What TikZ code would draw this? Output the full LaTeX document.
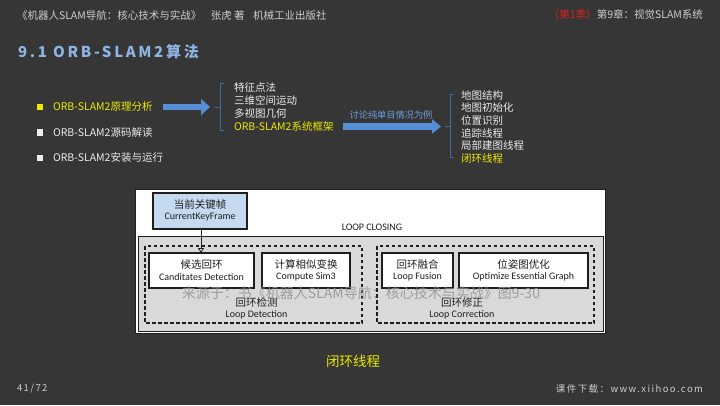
\documentclass[tikz,border=0pt]{standalone}
\usepackage{fontspec}
\setmainfont{Noto Sans CJK SC}
\newfontfamily\calfont{Carlito}
\newfontfamily\ttlfont[LetterSpace=18]{Noto Sans CJK SC}
\newfontfamily\ftfont[LetterSpace=15]{Noto Sans CJK SC}
\usetikzlibrary{arrows.meta}
\definecolor{bg}{RGB}{54,54,54}
\definecolor{hdr}{RGB}{205,205,205}
\definecolor{ttl}{RGB}{142,180,227}
\definecolor{yel}{RGB}{235,235,0}
\definecolor{wht}{RGB}{235,235,235}
\definecolor{arr}{RGB}{85,142,213}
\definecolor{arrtxt}{RGB}{110,155,220}
\definecolor{brk}{RGB}{75,105,150}
\definecolor{gbox}{RGB}{217,217,217}
\definecolor{kf}{RGB}{197,217,241}
\definecolor{redx}{RGB}{225,30,30}
\definecolor{ink}{RGB}{30,30,30}
\tikzset{
  hdrtxt/.style={anchor=west, text=hdr, font=\fontsize{10.5}{12}\selectfont},
  item/.style={anchor=west, text=wht, font=\fontsize{10.5}{12}\selectfont},
  itemhl/.style={item, text=yel},
  bsq/.style={minimum size=6.5pt, fill=wht},
  blockarrow/.style={draw=arr, line width=6.5pt, -{Triangle[length=9pt,width=16pt]}},
  bracket/.style={draw=brk, line width=0.8pt},
  wbox/.style={draw=ink, line width=1.1pt, fill=white, align=center},
  dbox/.style={draw=ink, line width=1.1pt, dash pattern=on 3.5pt off 2.5pt},
  cn/.style={font=\fontsize{10.5}{12}\selectfont, text=ink},
  en/.style={font=\calfont\fontsize{10}{12}\selectfont, text=ink},
}
\begin{document}
\begin{tikzpicture}[x=1pt,y=-1pt, every node/.style={inner sep=0pt, outer sep=0pt}]
\fill[bg] (0,0) rectangle (720,405);
\useasboundingbox (0,0) rectangle (720,405);
% header
\node[hdrtxt] (hl) at (17,15) {《机器人SLAM导航：核心技术与实战》\hspace{0.9em}张虎 著\hspace{0.8em}机械工业出版社};
\node[hdrtxt, anchor=east] (hr) at (703,15) {\textcolor{redx}{（第1季）}第9章：视觉SLAM系统};
% title
\node[anchor=west, text=ttl, font=\ttlfont\bfseries\fontsize{15}{17}\selectfont] (title) at (18,52) {9.1 ORB-SLAM2算法};
% bullets
\node[bsq, fill=yel] (b1) at (40,107) {};
\node[bsq] (b2) at (40,132.5) {};
\node[bsq] (b3) at (40,158) {};
\node[itemhl] (t1) at (53,107) {ORB-SLAM2原理分析};
\node[item] (t2) at (53,132.5) {ORB-SLAM2源码解读};
\node[item] (t3) at (53,158) {ORB-SLAM2安装与运行};
% first arrow and bracket
\coordinate (a1s) at (163,107);
\coordinate (k1) at (215,107);
\draw[blockarrow] (a1s) -- (210,107);
\draw[bracket] (224,83) -- (220.5,83) -- (220.5,130) -- (224,130);
\draw[bracket] (k1) -- (220.5,107);
\node[item] (m1) at (234,88) {特征点法};
\node[item] (m2) at (234,100.7) {三维空间运动};
\node[item] (m3) at (234,113.4) {多视图几何};
\node[itemhl] (m4) at (234,126) {ORB-SLAM2系统框架};
% second arrow
\coordinate (a2s) at (343,126.5);
\coordinate (k2) at (445,126.5);
\draw[blockarrow, -{Triangle[length=9pt,width=14pt]}] (a2s) -- (441,126.5);
\node[text=arrtxt, font=\fontsize{9.2}{11}\selectfont] (lab) at (391,115) {讨论纯单目情况为例};
\draw[bracket] (453.5,94) -- (450,94) -- (450,157) -- (453.5,157);
\draw[bracket] (k2) -- (450,126.5);
\node[item] (s1) at (461,95.5) {地图结构};
\node[item] (s2) at (461,108) {地图初始化};
\node[item] (s3) at (461,120.5) {位置识别};
\node[item] (s4) at (461,133) {追踪线程};
\node[item] (s5) at (461,145.5) {局部建图线程};
\node[itemhl] (s6) at (461,158) {闭环线程};
% diagram
\draw[draw=ink, line width=0.6pt, fill=white] (135,189) rectangle (605,333);
\draw[draw=ink, line width=0.9pt, fill=gbox] (138,236) rectangle (603,331);
\node[en] (lc) at (372,227) {LOOP CLOSING};
\node[wbox, fill=kf, minimum width=94pt, minimum height=36pt] (kfb) at (200,211) {};
\node[cn] at (200,205) {当前关键帧};
\node[en] at (200,217.5) {CurrentKeyFrame};
\draw[dbox] (145,246) rectangle (362,323);
\draw[dbox] (377,246) rectangle (594,323);
\node[wbox, minimum width=105pt, minimum height=35pt] (cand) at (201.5,270.5) {};
\node[wbox, minimum width=88pt, minimum height=35pt] (sim) at (306,270.5) {};
\node[wbox, minimum width=71pt, minimum height=35pt] (fus) at (417.5,270.5) {};
\node[wbox, minimum width=129pt, minimum height=35pt] (opt) at (523.5,270.5) {};
\node[cn] at (201.5,264.5) {候选回环};
\node[en] at (201.5,277) {Canditates Detection};
\node[cn] at (306,264.5) {计算相似变换};
\node[en] at (306,277) {Compute Sim3};
\node[cn] at (417.5,264.5) {回环融合};
\node[en] at (417.5,277) {Loop Fusion};
\node[cn] at (523.5,264.5) {位姿图优化};
\node[en] at (523.5,277) {Optimize Essential Graph};
\node[cn] (ld1) at (256.5,302) {回环检测};
\node[en] (ld2) at (256.5,315) {Loop Detection};
\node[cn] (lc1) at (462,302) {回环修正};
\node[en] (lc2) at (462,315) {Loop Correction};
\draw[ink, line width=0.8pt, -{Triangle[open,length=5pt,width=6pt]}] (kfb.south -| 201,0) -- (cand.north -| 201,0);
% watermark
\node[text=gray!85!white, opacity=0.85, font=\fontsize{14}{16}\selectfont] (wm) at (361,293) {来源于：书《机器人SLAM导航：核心技术与实战》图9-30};
% caption
\node[text=yel, font=\fontsize{13.5}{15}\selectfont] (cap) at (353,361) {闭环线程};
% footer
\node[anchor=west, text=hdr, font=\ftfont\fontsize{9.5}{11}\selectfont] (pg) at (17,389) {41/72};
\node[anchor=east, text=hdr, font=\ftfont\fontsize{9.5}{11}\selectfont] (dl) at (703,389) {课件下载：www.xiihoo.com};
\end{tikzpicture}
\end{document}
